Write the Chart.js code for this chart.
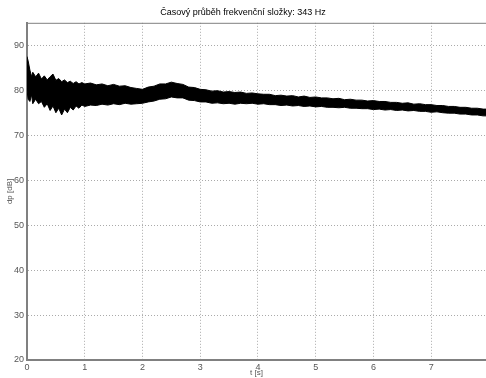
<!DOCTYPE html>
<html>
<head>
<meta charset="utf-8">
<script src="https://cdn.jsdelivr.net/npm/chart.js@4"></script>
<style>
    html, body { margin: 0; padding: 0; background: #fff; }
    canvas { display: block; }
</style>
</head>
<body>
<canvas id="chart" width="486" height="378"></canvas>
<script>
// time axis [s]
const times = [0, 0.02, 0.05, 0.08, 0.1, 0.15, 0.2, 0.25, 0.3, 0.35, 0.4, 0.45, 0.5, 0.55, 0.6, 0.65, 0.7, 0.75, 0.8, 0.85, 0.9, 0.95,
    1.0, 1.1, 1.2, 1.3, 1.4, 1.5, 1.6, 1.7, 1.8, 1.9, 2.0, 2.1, 2.2, 2.3, 2.4, 2.5, 2.6, 2.7, 2.8, 2.9,
    3.0, 3.1, 3.2, 3.3, 3.4, 3.5, 3.6, 3.7, 3.8, 3.9, 4.0, 4.1, 4.2, 4.3, 4.4, 4.5, 4.6, 4.7, 4.8, 4.9,
    5.0, 5.1, 5.2, 5.3, 5.4, 5.5, 5.6, 5.7, 5.8, 5.9, 6.0, 6.1, 6.2, 6.3, 6.4, 6.5, 6.6, 6.7, 6.8, 6.9,
    7.0, 7.1, 7.2, 7.3, 7.4, 7.5, 7.6, 7.7, 7.8, 7.9, 7.95];

// upper edge of the signal band [dB]
const upperDb = [87.5, 86.5, 84.5, 83, 84, 83, 83.8, 82.5, 83.2, 82.3, 83, 83.6, 82.2, 82.6, 81.9, 82.3, 81.7, 82, 81.5, 81.9, 81.4, 81.7,
    81.4, 81.6, 81.2, 81.4, 81, 81.3, 80.9, 81, 80.6, 80.4, 80.2, 80.7, 80.9, 81.4, 81.4, 81.8, 81.5, 81.3, 80.7, 80.6,
    80.2, 80.1, 79.8, 79.9, 79.6, 79.7, 79.5, 79.6, 79.3, 79.4, 79.2, 79.1, 79.1, 78.8, 78.9, 78.7, 78.8, 78.5, 78.7, 78.4,
    78.5, 78.3, 78.3, 78.1, 78.2, 77.9, 78, 77.8, 77.8, 77.6, 77.7, 77.5, 77.5, 77.3, 77.3, 77.1, 77.2, 76.9, 77, 76.8,
    76.8, 76.6, 76.6, 76.4, 76.4, 76.2, 76.2, 76, 76, 75.8, 75.8];

// lower edge of the signal band [dB]
const lowerDb = [80, 78, 77.5, 79, 77, 78, 77, 77.5, 76.2, 77, 75.5, 76.5, 75, 76, 74.5, 75.8, 75, 76.2, 75.6, 76.5, 76, 76.7,
    76.4, 76.7, 76.6, 76.9, 76.7, 77, 76.8, 77.1, 76.9, 77, 77.1, 77.4, 77.6, 78, 78.1, 78.5, 78.3, 78.3, 77.8, 77.7,
    77.4, 77.4, 77.1, 77.2, 77, 77.1, 76.9, 77.1, 77, 77.1, 76.9, 77, 76.8, 76.8, 76.6, 76.7, 76.5, 76.6, 76.4, 76.5,
    76.3, 76.4, 76.2, 76.2, 76.1, 76.2, 76, 76, 75.9, 75.9, 75.7, 75.8, 75.6, 75.7, 75.5, 75.6, 75.4, 75.5, 75.3, 75.3,
    75.1, 75.2, 75, 74.9, 74.9, 74.7, 74.7, 74.5, 74.5, 74.3, 74.3];

const xTicks = [0, 1, 2, 3, 4, 5, 6, 7];
const yTicks = [20, 30, 40, 50, 60, 70, 80, 90];

const FONT = 'Liberation Sans, Arial, sans-serif';

// top border of the plot box (MATLAB style frame)
const frame = {
    id: 'frame',
    afterDraw(chart) {
        const { ctx, chartArea: a } = chart;
        ctx.save();
        ctx.strokeStyle = '#808080';
        ctx.lineWidth = 1;
        ctx.beginPath();
        ctx.moveTo(a.left, a.top + 0.5);
        ctx.lineTo(a.right, a.top + 0.5);
        ctx.stroke();
        ctx.restore();
    }
};

new Chart(document.getElementById('chart'), {
    type: 'line',
    data: {
        datasets: [{
            data: times.map((t, i) => ({ x: t, y: lowerDb[i] })),
            borderColor: '#000',
            borderWidth: 1,
            pointRadius: 0,
            fill: false
        }, {
            data: times.map((t, i) => ({ x: t, y: upperDb[i] })),
            borderColor: '#000',
            borderWidth: 1,
            backgroundColor: '#000',
            pointRadius: 0,
            fill: '-1'
        }]
    },
    options: {
        responsive: false,
        animation: false,
        devicePixelRatio: 1,
        layout: { padding: 0 },
        plugins: {
            legend: { display: false },
            tooltip: { enabled: false },
            title: {
                display: true,
                text: 'Časový průběh frekvenční složky: 343 Hz',
                color: '#000',
                font: { family: FONT, size: 9, weight: 'normal' },
                padding: { top: 7, bottom: 5 }
            }
        },
        scales: {
            x: {
                type: 'linear',
                min: 0,
                max: 7.95,
                afterBuildTicks: (s) => { s.ticks = xTicks.map(v => ({ value: v })); },
                afterFit: (s) => { s.height = 18; },
                grid: { color: '#aaa', drawTicks: false },
                border: { color: '#808080', width: 2, dash: [1, 2] },
                ticks: { color: '#555', font: { family: FONT, size: 9 }, padding: 2, maxRotation: 0 },
                title: { display: true, text: 't [s]', color: '#555', font: { family: FONT, size: 8 }, padding: 0 }
            },
            y: {
                min: 20,
                max: 95,
                afterBuildTicks: (s) => { s.ticks = yTicks.map(v => ({ value: v })); },
                afterFit: (s) => { s.width = 27; },
                grid: { color: '#aaa', drawTicks: false },
                border: { color: '#808080', width: 2, dash: [1, 2] },
                ticks: { color: '#555', font: { family: FONT, size: 9 }, padding: 3 },
                title: { display: true, text: 'dp [dB]', color: '#555', font: { family: FONT, size: 8 }, padding: { top: 5, bottom: 0 } }
            }
        }
    },
    plugins: [frame]
});
</script>
</body>
</html>
